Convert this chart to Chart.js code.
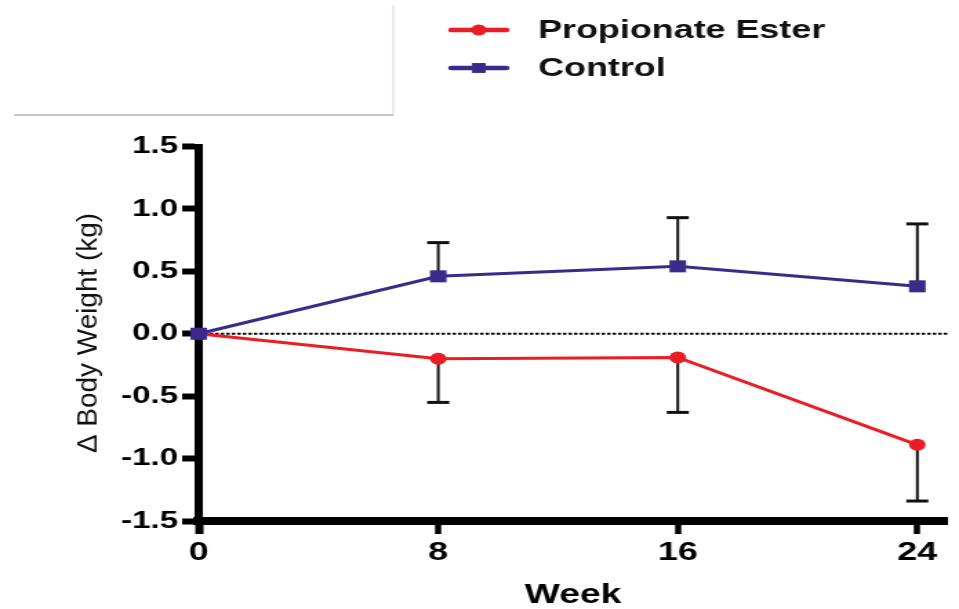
<!doctype html>
<html lang="en">
<head>
  <meta charset="utf-8">
  <title>Body weight change</title>
  <script src="https://cdn.jsdelivr.net/npm/chart.js"></script>
  <style>
    body { margin: 0; background: #fff; }
    canvas { display: block; }
  </style>
</head>
<body>
  <!-- the figure is drawn narrow and shown wide, so everything is stretched sideways -->
  <canvas id="weightChart" width="695" height="609" style="width:959px;height:609px"></canvas>
  <script>
    const weeks = [0, 8, 16, 24];
    const propionate = [0, -0.20, -0.19, -0.89];
    const propionateErr = [0, 0.35, 0.44, 0.45];
    const control = [0, 0.46, 0.54, 0.38];
    const controlErr = [0, 0.27, 0.39, 0.50];
    const weekTicks = [0, 8, 16, 24];
    const weightTicks = [-1.5, -1.0, -0.5, 0, 0.5, 1.0, 1.5];

    const RED = '#ec1c24';
    const PURPLE = '#3b2a8c';
    const FONT = '"Liberation Sans", Arial, sans-serif';

    Chart.defaults.font.family = FONT;
    Chart.defaults.color = '#000';

    function points(values) {
      return weeks.map(function (w, i) { return { x: w, y: values[i] }; });
    }

    // leftover frame lines in the top-left corner
    const cornerFrame = {
      id: 'cornerFrame',
      beforeDraw(chart) {
        const ctx = chart.ctx;
        ctx.save();
        ctx.lineWidth = 1.5;
        ctx.strokeStyle = '#e4e4e4';
        ctx.beginPath();
        ctx.moveTo(285, 5);
        ctx.lineTo(285, 115);
        ctx.stroke();
        ctx.strokeStyle = '#b5b5b5';
        ctx.beginPath();
        ctx.moveTo(10, 115);
        ctx.lineTo(285, 115);
        ctx.stroke();
        ctx.restore();
      }
    };

    // dotted zero line plus one-sided SEM bars
    const errorBars = {
      id: 'errorBars',
      beforeDatasetsDraw(chart) {
        const ctx = chart.ctx;
        const x = chart.scales.x;
        const y = chart.scales.y;
        ctx.save();
        ctx.strokeStyle = '#000';
        ctx.lineWidth = 2;
        ctx.setLineDash([2.5, 1.5]);
        ctx.beginPath();
        ctx.moveTo(x.getPixelForValue(x.min), y.getPixelForValue(0));
        ctx.lineTo(x.getPixelForValue(x.max), y.getPixelForValue(0));
        ctx.stroke();
        ctx.setLineDash([]);

        chart.data.datasets.forEach(function (ds) {
          ds.data.forEach(function (p, i) {
            const e = ds.errors[i];
            if (!e) return;
            const px = x.getPixelForValue(p.x);
            const y0 = y.getPixelForValue(p.y);
            const y1 = y.getPixelForValue(p.y + ds.errorSide * e);
            ctx.strokeStyle = '#111';
            ctx.lineWidth = 2;
            ctx.beginPath();
            ctx.moveTo(px, y0);
            ctx.lineTo(px, y1);
            ctx.stroke();
            ctx.lineWidth = 3;
            ctx.beginPath();
            ctx.moveTo(px - 8, y1);
            ctx.lineTo(px + 8, y1);
            ctx.stroke();
          });
        });
        ctx.restore();
      }
    };

    // y title and the two-row legend
    const labels = {
      id: 'labels',
      afterDraw(chart) {
        const ctx = chart.ctx;
        ctx.save();
        ctx.translate(64, 333);
        ctx.rotate(-Math.PI / 2);
        ctx.scale(1.33, 1);
        ctx.font = '21px ' + FONT;
        ctx.fillStyle = '#111';
        ctx.textAlign = 'center';
        ctx.textBaseline = 'middle';
        ctx.fillText('\u0394 Body Weight (kg)', 0, 0);
        ctx.restore();

        const rows = [30, 68];
        chart.data.datasets.forEach(function (ds, i) {
          const ly = rows[i];
          ctx.save();
          ctx.strokeStyle = ds.borderColor;
          ctx.fillStyle = ds.borderColor;
          ctx.lineWidth = 4.5;
          ctx.lineCap = 'round';
          ctx.beginPath();
          ctx.moveTo(327, ly);
          ctx.lineTo(367, ly);
          ctx.stroke();
          Chart.helpers.drawPoint(ctx, {
            pointStyle: ds.pointStyle,
            radius: ds.legendRadius,
            rotation: 0,
            borderWidth: 0
          }, 347, ly);
          ctx.fillStyle = '#111';
          ctx.font = 'bold 26px ' + FONT;
          ctx.textBaseline = 'middle';
          ctx.fillText(ds.label, 390, ly + 1);
          ctx.restore();
        });
      }
    };

    new Chart(document.getElementById('weightChart'), {
      type: 'line',
      data: {
        datasets: [{
          label: 'Propionate Ester',
          data: points(propionate),
          errors: propionateErr,
          errorSide: -1,
          borderColor: RED,
          backgroundColor: RED,
          borderWidth: 3,
          pointStyle: 'circle',
          pointRadius: 6,
          legendRadius: 5.5,
          pointBorderWidth: 0,
          order: 1,
          clip: false
        }, {
          label: 'Control',
          data: points(control),
          errors: controlErr,
          errorSide: 1,
          borderColor: PURPLE,
          backgroundColor: PURPLE,
          borderWidth: 3,
          pointStyle: 'rect',
          pointRadius: 8.5,
          legendRadius: 7,
          pointBorderWidth: 0,
          order: 0,
          clip: false
        }]
      },
      options: {
        responsive: false,
        devicePixelRatio: 1,
        animation: false,
        layout: { padding: { top: 146.5, right: 8, left: 0, bottom: 0 } },
        plugins: {
          legend: { display: false },
          tooltip: { enabled: false }
        },
        scales: {
          x: {
            type: 'linear',
            min: 0,
            max: 25,
            afterBuildTicks: function (s) { s.ticks = weekTicks.map(function (v) { return { value: v }; }); },
            afterFit: function (s) { s.height = 88; },
            border: { display: true, color: '#000', width: 8 },
            grid: {
              drawOnChartArea: false,
              color: '#000',
              tickColor: '#000',
              tickLength: 13,
              tickWidth: function (c) { return c.tick && c.tick.value === 0 ? 6 : 4.5; }
            },
            ticks: { font: { size: 26, weight: 'bold' }, padding: 3, maxRotation: 0, autoSkip: false },
            title: { display: true, text: 'Week', font: { size: 27, weight: 'bold' }, padding: { top: 0, bottom: -3 } }
          },
          y: {
            min: -1.5,
            max: 1.5,
            afterBuildTicks: function (s) { s.ticks = weightTicks.map(function (v) { return { value: v }; }); },
            afterFit: function (s) { s.width = 144; },
            border: { display: true, color: '#000', width: 6 },
            grid: {
              drawOnChartArea: false,
              color: '#000',
              tickColor: '#000',
              tickLength: 12,
              tickWidth: 6
            },
            ticks: {
              font: { size: 24, weight: 'bold' },
              padding: 3,
              callback: function (v) { return v.toFixed(1); }
            }
          }
        }
      },
      plugins: [cornerFrame, errorBars, labels]
    });
  </script>
</body>
</html>
